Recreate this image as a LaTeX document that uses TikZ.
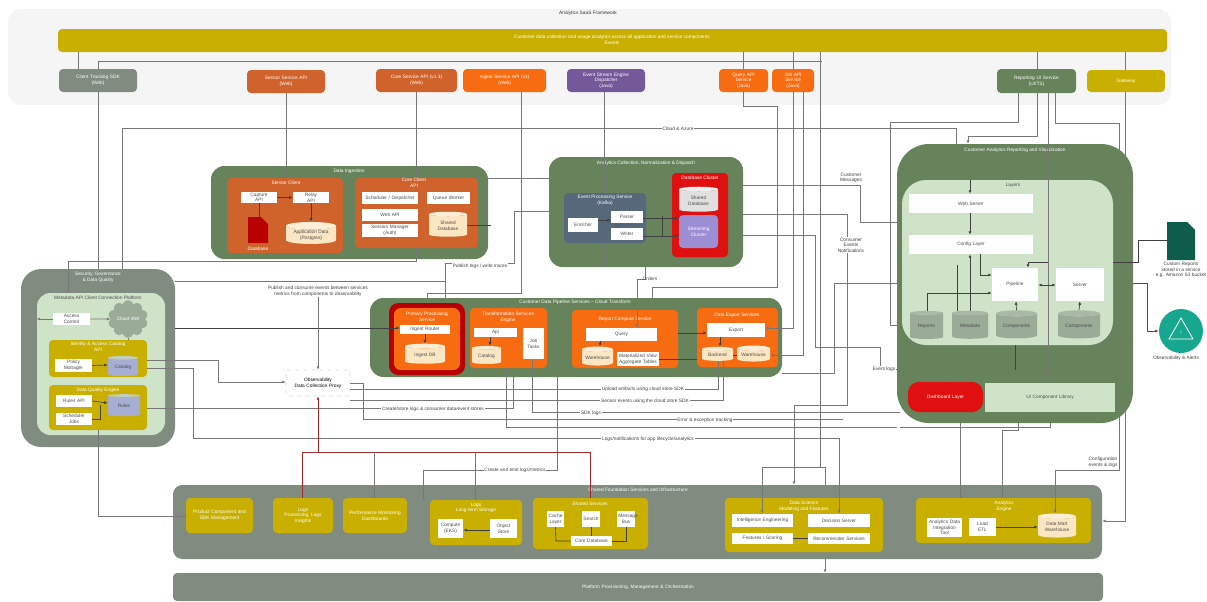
\documentclass[tikz,border=0pt]{standalone}
\usepackage{fontspec}
\setmainfont{Liberation Sans}
\usetikzlibrary{arrows.meta,shapes.geometric,shapes.symbols}
\definecolor{pgreen}{HTML}{66835C}
\definecolor{lgreen}{HTML}{CFE3C9}
\definecolor{pgrey}{HTML}{7F8C7F}
\definecolor{pyellow}{HTML}{C9B000}
\definecolor{pbrown}{HTML}{D0622B}
\definecolor{porange}{HTML}{F76C10}
\definecolor{ppurple}{HTML}{75589A}
\definecolor{pslate}{HTML}{56687A}
\definecolor{pred}{HTML}{E01010}
\definecolor{pdark}{HTML}{B80000}
\definecolor{pcream}{HTML}{FBE6C4}
\definecolor{pline}{HTML}{777777}
\definecolor{pcyl}{HTML}{9AAB98}
\definecolor{pteal}{HTML}{17A78E}
\definecolor{pdocg}{HTML}{0E5C4A}
\newcommand\tf{\fontsize{3.6}{4.2}\selectfont}
\newcommand\bx[7]{%
 \pgfmathsetmacro\cxx{(#2+#4)/2}\pgfmathsetmacro\cyy{(#3+#5)/2}%
 \pgfmathsetmacro\wdd{(#4-#2)*0.75}\pgfmathsetmacro\htt{(#5-#3)*0.75}%
 \node[#6,minimum width=\wdd pt,minimum height=\htt pt,text width=\wdd pt-2pt] (#1) at (\cxx,\cyy) {#7};}
\newcommand\cy[7]{%
 \pgfmathsetmacro\cxx{(#2+#4)/2}\pgfmathsetmacro\cyy{(#3+#5)/2}%
 \pgfmathsetmacro\wdd{(#4-#2)*0.75}\pgfmathsetmacro\htt{(#5-#3)*0.75}%
 \node[cyl,#6,minimum width=\wdd pt,minimum height=\htt pt] (#1) at (\cxx,\cyy) {#7};}
\tikzset{
 base/.style={rectangle,align=center,inner sep=0pt,font=\tf},
 pnl/.style={base,fill=#1,rounded corners=10pt,text=white},
 blk/.style={base,fill=#1,rounded corners=3pt,text=white},
 wbox/.style={base,fill=white,text=black!70},
 cyl/.style={cylinder,shape border rotate=90,aspect=.22,draw=none,inner sep=0pt,align=center,font=\tf,
   cylinder uses custom fill,cylinder body fill=pcream,cylinder end fill=pcream!70!white,text=black!70},
 gcyl/.style={cylinder body fill=pcyl,cylinder end fill=pcyl!85!white},
 bcyl/.style={cylinder body fill=pcyl!70!blue!60!white,cylinder end fill=pcyl!60!white},
 ttl/.style={align=center,inner sep=0pt,font=\tf,text=white},
 lbl/.style={align=center,inner sep=.6pt,font=\tf,text=black!75,fill=white},
 conn/.style={draw=pline,line width=.45pt},
 dk/.style={draw=black!75,line width=.5pt},
 arr/.style={-{Latex[length=2.6pt,width=2.2pt]}},
 rarr/.style={draw=pdark!65!pline,line width=.55pt},
}
\begin{document}
\begin{tikzpicture}[x=.75pt,y=-.75pt]
\useasboundingbox (0,0) rectangle (1207,601);
% ---- top area
\bx{topp}{8}{9}{1171}{105}{pnl=black!4}{}
\node[ttl,text=black!80] (toptitle) at (588,13) {Analytics SaaS Framework};
\bx{bar}{58}{29}{1167}{52}{blk=pyellow}{}
\node[ttl,text=white] (bartxt) at (612,40) {Customer data collection and usage analytics across all application and service components\\Events};
\bx{t1}{59}{69}{137}{92}{blk=pgrey}{Client Tracking SDK\\(Web)}
\bx{t2}{247}{70}{325}{93}{blk=pbrown}{Sensor Service API\\(Web)}
\bx{t3}{376}{69}{457}{92}{blk=pbrown}{Core Service API (v1.3)\\(Web)}
\bx{t4}{463}{69}{546}{92}{blk=porange}{Ingest Service API (v1)\\(Web)}
\bx{t5}{567}{69}{645}{92}{blk=ppurple}{Event Stream Engine\\Dispatcher\\(Java)}
\bx{t6}{719}{69}{768}{92}{blk=porange}{Query API\\Service\\(Java)}
\bx{t7}{772}{69}{814}{92}{blk=porange}{Job API\\Service\\(Java)}
\bx{t8}{997}{69}{1076}{93}{blk=pgreen}{Reporting UI Service\\(UI/TS)}
\bx{t9}{1087}{70}{1165}{92}{blk=pyellow}{Gateway}
% ---- panel A
\bx{pa}{211}{166}{488}{259}{pnl=pgreen}{}
\node[ttl] (patitle) at (349,171) {Data Ingestion};
\bx{oa1}{227}{178}{343}{253}{blk=pbrown}{}
\node[ttl] (oa1t) at (286,183) {Sensor Client};
\bx{oa1w1}{241}{192}{277}{203}{wbox}{Capture\\API}
\bx{oa1w2}{293}{192}{329}{203}{wbox}{Relay\\API}
\fill[pdark] (248,217) -- (261,217) -- (268,224) -- (268,243) -- (248,243) -- cycle;
\node[ttl] (oa1d) at (258,249) {Database};
\cy{oa1c}{286}{224}{336}{246}{}{Application Data\\(Postgres)}
\bx{oa2}{355}{178}{478}{248}{blk=pbrown}{}
\node[ttl] (oa2t) at (414,183) {Core Client\\API};
\bx{oa2w1}{362}{192}{418}{204}{wbox}{Scheduler / Dispatcher}
\bx{oa2w2}{427}{192}{470}{204}{wbox}{Queue Worker}
\bx{oa2w3}{362}{209}{418}{221}{wbox}{Web API}
\bx{oa2w4}{362}{224}{418}{237}{wbox}{Session Manager\\(Auth)}
\cy{oa2c}{429}{213}{467}{238}{}{Shared\\Database}
% ---- panel B
\bx{pb}{549}{157}{743}{267}{pnl=pgreen}{}
\node[ttl] (pbtitle) at (646,163) {Analytics Collection, Normalization \& Dispatch};
\bx{sl}{564}{193}{646}{243}{blk=pslate}{}
\node[ttl] (slt) at (605,200) {Event Processing Service\\(Kafka)};
\bx{slw1}{568}{218}{598}{232}{wbox}{Enricher}
\bx{slw2}{611}{211}{643}{223}{wbox}{Parser}
\bx{slw3}{611}{228}{643}{240}{wbox}{Writer}
\bx{rb}{672}{173}{728}{257}{blk=pred}{}
\node[ttl] (rbt) at (700,178) {Database Cluster};
\bx{rbi}{679}{215}{718}{248}{blk=ppurple!75!blue!60!white}{Streaming\\Cluster}
\cy{rbc}{679}{188}{718}{213}{cylinder body fill=black!12,cylinder end fill=black!6}{Shared\\Database}
% ---- panel C
\bx{pc}{370}{298}{782}{377}{pnl=pgreen}{}
\node[ttl] (pctitle) at (575,302) {Customer Data Pipeline Services -- Cloud Transform};
\bx{cr}{389}{303}{465}{375}{blk=pdark,rounded corners=7pt}{}
\bx{cro}{394}{308}{460}{370}{blk=porange,rounded corners=5pt}{}
\node[ttl] (crt) at (427,317) {Primary Processing\\Service};
\bx{crw}{400}{325}{450}{334}{wbox}{Ingest Router}
\cy{crc}{405}{345}{445}{365}{}{Ingest DB}
\bx{c2}{470}{308}{547}{368}{blk=porange}{}
\node[ttl] (c2t) at (508,317) {Transformation Services\\Engine};
\bx{c2w}{474}{328}{517}{337}{wbox}{Api}
\cy{c2c}{472}{347}{501}{365}{}{Catalog}
\bx{c2t2}{523}{328}{544}{359}{wbox}{Job\\Tasks}
\bx{c3}{572}{310}{678}{368}{blk=porange}{}
\node[ttl] (c3t) at (625,319) {Report Compute Service};
\bx{c3w}{586}{328}{657}{341}{wbox}{Query}
\cy{c3c}{582}{348}{613}{367}{}{Warehouse}
\bx{c3w2}{617}{352}{659}{366}{wbox}{Materialized View\\Aggregate Tables}
\bx{c4}{697}{308}{778}{367}{blk=porange}{}
\node[ttl] (c4t) at (737,315) {Data Export Services};
\bx{c4w}{707}{323}{765}{337}{wbox}{Export}
\cy{c4c}{702}{348}{733}{362}{}{Backend}
\cy{c4d}{737}{347}{770}{363}{}{Warehouse}
% ---- left panel
\bx{lp}{21}{269}{175}{447}{pnl=pgrey,rounded corners=15pt}{}
\node[ttl] (lpt) at (98,277) {Security, Governance\\\& Data Quality};
\bx{li}{37}{293}{165}{435}{pnl=lgreen}{}
\node[ttl,text=black!70] (lit) at (98,298) {Metadata API Client Connection Platform};
\bx{lw}{53}{313}{90}{325}{wbox}{Access\\Control}
\node[cloud,cloud puffs=10,fill=pcyl,minimum width=30pt,minimum height=15pt,inner sep=0pt,font=\tf,text=white] (lcl) at (128,319) {Cloud IAM};
\bx{ly1}{49}{340}{147}{377}{blk=pyellow}{}
\node[ttl] (ly1t) at (98,347) {Identity \& Access Catalog\\API};
\bx{ly1w}{55}{359}{92}{372}{wbox}{Policy\\Manager}
\cy{ly1c}{108}{357}{138}{377}{bcyl}{Catalog}
\bx{ly2}{49}{385}{147}{430}{blk=pyellow}{}
\node[ttl] (ly2t) at (98,390) {Data Quality Engine};
\bx{ly2w1}{56}{395}{92}{407}{wbox}{Rules API}
\bx{ly2w2}{56}{413}{92}{425}{wbox}{Scheduler\\Jobs}
\cy{ly2c}{108}{395}{140}{417}{bcyl}{Rules}
% ---- hub
\bx{hub}{286}{370}{350}{396}{base,fill=white,draw=black!15,rounded corners=2pt,dashed}{Observability\\Data Collection Proxy}
% ---- right panel
\bx{rp}{897}{144}{1133}{423}{pnl=pgreen,rounded corners=24pt}{}
\node[ttl] (rpt) at (1015,150) {Customer Analytics Reporting and Visualization};
\bx{ri}{902}{180}{1113}{345}{pnl=lgreen,rounded corners=18pt}{}
\node[ttl,text=black!70] (rit) at (1013,185) {Layers};
\bx{rw1}{909}{194}{1033}{213}{wbox}{Web Server}
\bx{rw2}{909}{235}{1033}{254}{wbox}{Config Layer}
\bx{rw3}{992}{268}{1038}{301}{wbox}{Pipeline}
\bx{rw4}{1056}{268}{1104}{301}{wbox}{Server}
\cy{rc1}{910}{312}{943}{340}{gcyl}{Reports}
\cy{rc2}{952}{312}{988}{340}{gcyl}{Metadata}
\cy{rc3}{996}{312}{1037}{340}{gcyl}{Components}
\cy{rc4}{1058}{312}{1100}{340}{gcyl}{Components}
\bx{rr}{908}{382}{983}{412}{blk=pred,rounded corners=8pt}{Dashboard Layer}
\bx{rl}{985}{383}{1115}{412}{base,fill=lgreen,text=black!70}{UI Component Library}
% icons
\node[inner sep=0pt] (docg) at (1181,241) {};
\fill[pdocg] (1167,222) -- (1187,222) -- (1195,230) -- (1195,260) -- (1167,260) -- cycle;
\node[lbl,fill=none] (doct) at (1181,270) {Custom Reports\\stored in a service\\e.g. Amazon S3 bucket};
\node[circle,fill=pteal,minimum size=33pt,inner sep=0pt] (alert) at (1181,331) {};
\draw[white,line width=.6pt] (1181,318) -- (1193,339) -- (1169,339) -- cycle;
\node[ttl,text=white] (alertm) at (1181,333) {!};
\node[lbl,fill=none] (alertt) at (1176,358) {Observability \& Alerts};
% ---- bottom
\bx{bp}{173}{485}{1102}{559}{pnl=pgrey,rounded corners=7pt}{}
\node[ttl] (bpt) at (638,490) {Shared Foundation Services and Infrastructure};
\bx{y1}{186}{498}{253}{533}{blk=pyellow}{Product Component and\\SDK Management}
\bx{y2}{273}{498}{333}{533}{blk=pyellow}{Logs\\Processing, Logs\\Insights}
\bx{y3}{343}{498}{407}{533}{blk=pyellow}{Performance Monitoring\\Dashboards}
\bx{y4}{430}{500}{522}{545}{blk=pyellow}{}
\node[ttl] (y4t) at (476,508) {Logs\\Long-term Storage};
\bx{y4a}{438}{519}{463}{538}{wbox}{Compute\\(EKS)}
\bx{y4b}{490}{519}{517}{538}{wbox}{Object\\Store}
\bx{y5}{533}{498}{648}{549}{blk=pyellow}{}
\node[ttl] (y5t) at (590,504) {Shared Services};
\bx{y5a}{547}{511}{564}{527}{wbox}{Cache\\Layer}
\bx{y5b}{582}{511}{600}{527}{wbox}{Search}
\bx{y5c}{617}{511}{635}{527}{wbox}{Message\\Bus}
\bx{y5d}{571}{536}{612}{546}{wbox}{Core Database}
\bx{y6}{725}{498}{883}{552}{blk=pyellow}{}
\node[ttl] (y6t) at (804,506) {Data Science\\Modeling and Features};
\bx{y6a}{732}{514}{793}{527}{wbox}{Intelligence Engineering}
\bx{y6b}{808}{514}{870}{527}{wbox}{Decision Server}
\bx{y6c}{732}{533}{793}{544}{wbox}{Features / Scoring}
\bx{y6d}{808}{533}{870}{544}{wbox}{Recommender Services}
\bx{y7}{916}{498}{1091}{543}{blk=pyellow}{}
\node[ttl] (y7t) at (1004,506) {Analytics\\Engine};
\bx{y7a}{927}{518}{962}{537}{wbox}{Analytics Data\\Integration\\Tool}
\bx{y7b}{969}{518}{996}{536}{wbox}{Load\\ETL}
\cy{y7c}{1038}{515}{1076}{539}{}{Data Mart\\Warehouse}
\bx{bb}{173}{573}{1103}{601}{pnl=pgrey,rounded corners=3pt}{Platform Provisioning, Management \& Orchestration}
% top connectors
\draw[conn] (bar.south -| 78,0) -- (t1.north -| 78,0);
\draw[conn] (t1.north -| 98,0) -- (98,61) -- (822,61);
\draw[conn] (bar.south -| 743,0) -- (t6.north -| 743,0);
\draw[conn] (bar.south -| 793,0) -- (t7.north);
\draw[conn] (bar.south -| 1037,0) -- (t8.north -| 1037,0);
\draw[conn] (bar.south -| 1125,0) -- (t9.north -| 1125,0);
\draw[conn] (t1.south -| 98,0) -- (lp.north -| 98,0);
\draw[conn] (lp.north -| 122,0) -- (122,128) -- (956,128) -- (rp.north -| 956,0);
\draw[conn,arr] (t2.south -| 286,0) -- (oa1.north -| 286,0);
\draw[conn,arr] (t3.south -| 416,0) -- (oa2.north -| 416,0);
\draw[conn] (t4.south -| 521,0) -- (521,293) -- (427,293) -- (pc.north -| 427,0);
\draw[conn] (t5.south -| 604,0) -- (sl.north -| 604,0);
\draw[conn] (sl.south -| 604,0) -- (pb.south -| 604,0);
\draw[conn] (t6.south -| 743,0) -- (743,106) -- (777,106) -- (777,287) -- (652,287) -- (pc.north -| 652,0);
\draw[conn,arr] (t7.south -| 793,0) -- (793,328) -- (c4w.east |- 793,328);
\draw[conn,arr] (t7.south -| 803,0) -- (803,355) -- (c4d.east |- 803,355);
\draw[conn] (bar.south -| 820,0) -- (820,467) -- (762,467);
\draw[conn,arr] (762,467) -- (y6a.north -| 762,0);
\draw[conn] (820,467) -- (825,467) -- (bp.north -| 825,0);
\draw[conn,arr] (bp.south -| 825,0) -- (bb.north -| 825,0);
\draw[conn] (t8.south -| 1018,0) -- (1018,122) -- (890,122) -- (890,325) -- (rp.west |- 890,325);
\draw[conn,arr] (t8.south -| 1037,0) -- (1037,136) -- (968,136) -- (rp.north -| 968,0);
\draw[conn] (t8.south -| 1048,0) -- (1048,380);
\draw[conn] (t8.south -| 1055,0) -- (1055,123) -- (1119,123) -- (1119,470) -- (1055,470);
\draw[conn,arr] (1055,470) -- (y7c.north -| 1055,0);
\draw[conn,arr] (t9.south -| 1125,0) -- (1125,521) -- (bp.east |- 1125,521);
% A/B connectors
\draw[conn] (pa.east |- 488,178) -- (pb.west |- 549,178);
\draw[dk] (oa2c.east |- 467,225) -- (491,225);
\draw[conn] (oa2.south -| 416,0) -- (416,261) -- (68,261) -- (li.north -| 68,0);
\draw[conn,arr] (pb.west |- 549,211) -- (514,211) -- (514,263) -- (445,263) -- (cr.north -| 445,0);
\draw[conn] (lp.east |- 175,281) -- (445,281);
\draw[conn] (pb.east |- 743,185) -- (860,185) -- (860,222) -- (rp.west |- 860,222);
\draw[conn] (pb.east |- 728,214) -- (847,214) -- (847,405) -- (794,405);
\draw[conn,arr] (794,405) -- (bp.north -| 794,0) ;
\draw[conn] (rb.east |- 718,235) -- (815,235) -- (815,347) -- (880,347) -- (880,369) -- (rp.west |- 880,369);
\draw[conn] (rp.west |- 897,283) -- (834,283) -- (834,373) -- (pc.east |- 782,373);
\draw[conn,arr] (pb.south -| 645,0) -- (645,279) -- (637,279) -- (c3w.north -| 637,0);
\draw[dk,arr] (lp.east |- 175,328) -- (crw.west |- 400,328);
% left panel to hub etc
\draw[conn,arr] (ly1.east |- 147,360) -- (218,360) -- (218,382) -- (hub.west |- 286,382);
\draw[conn] (ly1.east |- 147,368) -- (193,368) -- (193,438) -- (839,438);
\draw[conn,arr] (839,438) -- (y6b.north -| 839,0);
\draw[conn] (ly2.east |- 147,408) -- (513,408) -- (c2.south -| 513,0);
\draw[conn] (ly2.south -| 98,0) -- (98,516) -- (y1.west |- 186,516);
\coordinate (hubin) at (318,293);
\draw[conn,arr] (hubin) -- (hub.north);
\draw[conn] (hub.east |- 350,383) -- (363,383) -- (363,419) -- (843,419);
\draw[conn] (350,389) -- (718,389) -- (c4c.south -| 718,0);
\draw[conn] (350,400) -- (723,400) -- (c4c.south -| 723,0);
\draw[conn] (c2t2.south -| 532,0) -- (532,412) -- (900,412);
\draw[conn] (c2.south -| 506,0) -- (506,427) -- (rp.west |- 897,427);
\draw[conn] (rp.south -| 1050,0) -- (1050,427) -- (900,427);
\draw[conn] (c3.south -| 557,0) -- (557,470) -- (423,470) -- (y4.north -| 423,0);
% red
\draw[rarr,arr] (302,452) -- (318,452) -- (hub.south);
\draw[rarr] (y2.north -| 302,0) -- (302,452) -- (590,452) -- (y5.north -| 590,0);
\draw[conn] (y3.north -| 374,0) -- (374,452);
\draw[conn] (y4.north -| 475,0) -- (475,452);
% C internals
\draw[dk,arr] (crw.south -| 425,0) -- (crc.north -| 425,0);
\draw[dk,arr] (c2w.south -| 490,0) -- (c2c.north -| 490,0);
\draw[dk,arr] (c3w.south -| 600,0) -- (c3c.north -| 600,0);
\draw[dk,arr] (c4w.south -| 720,0) -- (c4c.north -| 720,0);
\draw[dk,arr] (c3.east |- 678,333) -- (c4w.west |- 707,333);
\draw[dk] (c3w2.east |- 659,359) -- (697,359);
\draw[dk] (c4c.east |- 733,355) -- (c4d.west |- 737,355);
% B internals
\draw[dk,arr] (slw1.east |- 598,220) -- (slw2.west |- 611,220);
\draw[dk,arr] (slw2.east |- 643,218) -- (rbc.west |- 679,218);
\draw[dk] (slw3.east |- 643,236) -- (662,236) -- (662,216);
\draw[dk,arr] (662,236) -- (rbi.west |- 679,236);
% A internals
\draw[dk,arr] (oa1w1.east) -- (oa1w2.west);
\draw[dk,arr] (oa1w2.south -| 311,0) -- (oa1c.north -| 311,0);
\draw[dk] (oa1w1.south -| 259,0) -- (259,217);
% left internals
\draw[conn,arr] (lw.east) -- (lcl.west);
\draw[conn,arr] (lw.west) -- (li.west |- 37,319);
\draw[dk,arr] (ly1w.east) -- (ly1c.west |- 108,365);
\draw[dk,arr] (ly2w1.east) -- (ly2c.west |- 108,403);
\draw[dk] (ly2w2.east) -- (100,419) -- (100,405);
\draw[conn] (lcl.south) -- (ly1.north -| 128,0);
% right internals
\draw[dk,arr] (ri.north -| 970,0) -- (rw1.north -| 970,0);
\draw[dk,arr] (rw1.south -| 970,0) -- (rw2.north -| 970,0);
\draw[dk,arr] (rc2.north -| 970,0) -- (rw2.south -| 970,0);
\draw[dk,arr] (rw2.south -| 980,0) -- (980,275) -- (rw3.west |- 992,275);
\draw[dk,arr] (rc1.north -| 927,0) -- (927,293) -- (rw3.west |- 992,293);
\draw[dk] (rc2.north -| 957,0) -- (957,265);
\draw[dk,arr] (rc3.north) -- (rw3.south -| 1016,0);
\draw[dk,arr] (rc4.north) -- (rw4.south);
\draw[dk,arr] (1048,262) -- (1028,262) -- (rw3.north -| 1028,0);
\draw[dk,{Latex[length=2.6pt,width=2.2pt]}-{Latex[length=2.6pt,width=2.2pt]}] (rw3.east |- 1038,285) -- (rw4.west |- 1056,285);
\draw[dk] (ri.south -| 1015,0) -- (1015,370);
\draw[conn] (rp.south -| 960,0) -- (y7.north -| 960,0);
\draw[conn] (rp.south -| 1018,0) -- (1018,430) -- (1002,430) -- (y7.north -| 1002,0);
\draw[conn] (rr.north -| 945,0) -- (945,372);
% to icons
\draw[dk] (ri.east |- 1113,262) -- (1138,262) -- (1138,240) -- (1167,240);
\draw[conn,rarr,arr] (rp.east |- 1133,283) -- (1147,283) -- (1147,331) -- (alert.west);
% bottom internals
\draw[dk,{Latex[length=2.6pt,width=2.2pt]}-] (y4a.east |- 463,530) -- (y4b.west |- 490,530);
\draw[dk] (y5a.south) -- (556,541) -- (y5d.west |- 571,541);
\draw[dk] (y5b.south) -- (y5d.north -| 591,0);
\draw[dk] (y5c.south) -- (626,541) -- (y5d.east |- 612,541);
\draw[dk,arr] (y7b.east |- 996,527) -- (y7c.west |- 1038,527);
\draw[dk] (y6a.east |- 793,538) -- (y6b.west |- 808,538);
% line labels
\node[lbl] (l1) at (678,129) {Cloud \& Azure};
\node[lbl] (l2) at (480,266) {Publish logs / write traces};
\node[lbl] (l3) at (318,291) {Publish and consume events between services\\metrics from components to observability};
\node[lbl] (l4) at (851,178) {Customer\\Messages};
\node[lbl] (l5) at (851,245) {Consumer\\Events\\Notifications};
\node[lbl,fill=none] (l6) at (650,279) {Orders};
\node[lbl] (l7) at (433,409) {Create/store logs \& consumer data/event stores};
\node[lbl] (l8) at (643,389) {Upload artifacts using cloud store SDK};
\node[lbl] (l9) at (645,401) {Sensor events using the cloud store SDK};
\node[lbl] (l10) at (591,413) {SDK logs};
\node[lbl] (l11) at (705,420) {Error \& exception tracking};
\node[lbl] (l12) at (648,439) {Logs/notifications for app lifecycle/analytics};
\node[lbl] (l13) at (515,470) {Create and emit logs/metrics};
\node[lbl] (l14) at (1103,462) {Configuration\\events \& logs};
\node[lbl] (l15) at (884,369) {Event logs};
\end{tikzpicture}
\end{document}
